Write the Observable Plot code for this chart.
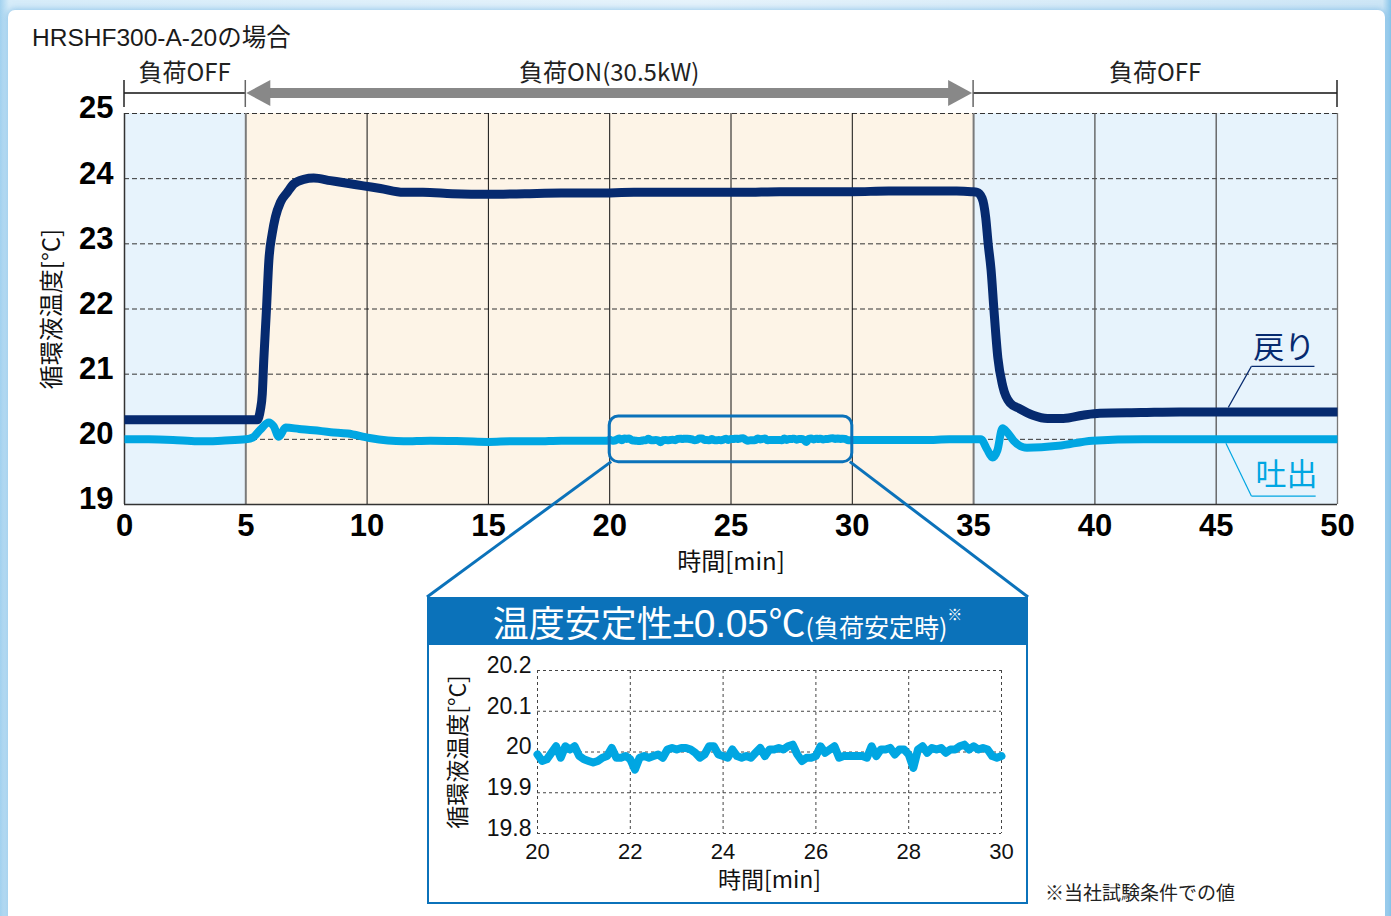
<!DOCTYPE html>
<html><head><meta charset="utf-8">
<script src="https://cdn.jsdelivr.net/npm/d3@7"></script>
<script src="https://cdn.jsdelivr.net/npm/@observablehq/plot@0.6"></script>
<style>
html,body{margin:0;padding:0;}
body{width:1391px;height:916px;overflow:hidden;position:relative;
  background:linear-gradient(90deg,#a3d2ef 0px,#d6ecf9 9px,#e6f3fb 50%,#cde6f6 99.4%,#86c4ea 100%);
  font-family:"Liberation Sans","Noto Sans CJK JP",sans-serif;}
#panel{position:absolute;left:8px;top:10px;width:1377px;height:940px;background:#fff;border-radius:7px;
  box-shadow:0 0 6px 1px rgba(90,165,220,0.55);}
#title{position:absolute;left:32px;top:23px;font-size:24.5px;color:#1a1a1a;white-space:nowrap;line-height:30px;}
#main{position:absolute;left:0;top:0;}
#insetbox{position:absolute;left:427px;top:597px;width:601px;height:307px;box-sizing:border-box;border:2px solid #0b72ba;background:#fff;}
#insethead{position:relative;height:46px;background:#0b72ba;color:#fff;white-space:nowrap;}
#insethead .inner{position:absolute;left:0;right:0;top:4px;text-align:center;line-height:1;}
#insethead .big{font-size:36px;font-family:"Noto Sans CJK JP",sans-serif;}
#insethead .num{font-size:39px;font-family:"Liberation Sans",sans-serif;letter-spacing:-0.3px;}
#insethead .deg{font-size:37px;font-family:"Noto Sans CJK JP",sans-serif;}
#insethead .mid{font-size:25px;font-family:"Noto Sans CJK JP",sans-serif;}
#insethead sup{font-size:15px;vertical-align:17px;font-family:"Noto Sans CJK JP",sans-serif;}
#insetplot{position:absolute;left:427px;top:645px;}
#note{position:absolute;left:1045px;top:881px;font-size:19px;color:#222;white-space:nowrap;line-height:26px;}
</style>
</head><body>
<div id="panel"></div>
<div id="main"></div>
<div id="title">HRSHF300-A-20の場合</div>
<div id="insetbox"><div id="insethead"><div class="inner"><span class="big">温度安定性</span><span class="num">±0.05</span><span class="deg">℃</span><span class="mid">(負荷安定時)</span><sup>※</sup></div></div></div>
<div id="insetplot"></div>
<div id="note">※当社試験条件での値</div>
<script>
// ---------- data ----------
const phaseLabels = ["負荷OFF", "負荷ON(30.5kW)", "負荷OFF"];
const phaseStart = [0, 5, 35];
const phaseEnd = [5, 35, 50];
const phaseState = ["off", "on", "off"];

const xTicks = [0, 5, 10, 15, 20, 25, 30, 35, 40, 45, 50];
const yTicks = [19, 20, 21, 22, 23, 24, 25];

// 戻り (return)
const returnTime = [0, 1, 2, 3, 4, 5, 5.3, 5.47, 5.6, 5.68, 5.74, 5.85, 5.95, 6.09, 6.22, 6.43, 6.71, 6.98, 7.39, 7.8, 8.49, 9.18, 9.85, 10.55, 11.5, 12.3, 13.5, 15, 16.5, 18, 19.5, 21, 22.5, 24, 25.5, 27, 28.5, 30, 31.5, 33, 34.3, 34.9, 35.15, 35.35, 35.5, 35.6, 35.72, 35.84, 36.0, 36.2, 36.5, 36.9, 37.45, 38.05, 38.7, 39.5, 40.2, 41.9, 43.5, 45, 46.5, 48, 50];
const returnTemp = [20.3, 20.3, 20.3, 20.3, 20.3, 20.3, 20.3, 20.3, 20.45, 20.7, 21.21, 21.98, 22.74, 23.16, 23.41, 23.64, 23.79, 23.92, 23.99, 24.01, 23.97, 23.93, 23.89, 23.85, 23.79, 23.79, 23.77, 23.76, 23.77, 23.78, 23.78, 23.79, 23.79, 23.79, 23.79, 23.80, 23.80, 23.80, 23.81, 23.81, 23.81, 23.80, 23.79, 23.7, 23.4, 23.0, 22.6, 21.98, 21.25, 20.82, 20.56, 20.47, 20.37, 20.32, 20.32, 20.37, 20.40, 20.41, 20.42, 20.42, 20.42, 20.42, 20.42];

// 吐出 (discharge), main chart portions outside the 20–30 window
const dischargeTimeA = [0, 1, 2, 3, 3.5, 4, 5, 5.3, 5.6, 5.95, 6.15, 6.36, 6.64, 7.2, 7.8, 8.5, 9.2, 10.1, 11.5, 12.6, 14, 15, 16, 17, 18, 19, 19.9];
const dischargeTempA = [20.0, 20.0, 19.99, 19.97, 19.97, 19.98, 20.0, 20.03, 20.15, 20.26, 20.2, 20.04, 20.18, 20.16, 20.14, 20.11, 20.09, 20.02, 19.97, 19.98, 19.97, 19.96, 19.97, 19.97, 19.98, 19.98, 19.98];
const dischargeTimeB = [30.5, 31, 32, 33, 34, 35, 35.3, 35.55, 35.78, 35.98, 36.19, 36.4, 36.65, 37.2, 38.5, 39.9, 42, 44, 46, 48, 50];
const dischargeTempB = [19.99, 19.99, 19.99, 19.99, 20.0, 20.0, 20.0, 19.85, 19.72, 19.83, 20.17, 20.1, 19.98, 19.87, 19.9, 19.98, 20.0, 20.0, 20.0, 20.0, 20.0];

// Inset: 吐出 20–30 min
const insetTime = [20.0, 20.1, 20.2, 20.3, 20.4, 20.5, 20.6, 20.7, 20.8, 20.9, 21.0, 21.1, 21.2, 21.3, 21.4, 21.5, 21.6, 21.7, 21.8, 21.9, 22.0, 22.1, 22.2, 22.3, 22.4, 22.5, 22.6, 22.7, 22.8, 22.9, 23.0, 23.1, 23.2, 23.3, 23.4, 23.5, 23.6, 23.7, 23.8, 23.9, 24.0, 24.1, 24.2, 24.3, 24.4, 24.5, 24.6, 24.7, 24.8, 24.9, 25.0, 25.1, 25.2, 25.3, 25.4, 25.5, 25.6, 25.7, 25.8, 25.9, 26.0, 26.1, 26.2, 26.3, 26.4, 26.5, 26.6, 26.7, 26.8, 26.9, 27.0, 27.1, 27.2, 27.3, 27.4, 27.5, 27.6, 27.7, 27.8, 27.9, 28.0, 28.1, 28.2, 28.3, 28.4, 28.5, 28.6, 28.7, 28.8, 28.9, 29.0, 29.1, 29.2, 29.3, 29.4, 29.5, 29.6, 29.7, 29.8, 29.9, 30.0];
const insetTemp = [19.994, 19.978, 19.982, 19.998, 20.014, 19.986, 20.014, 20.006, 20.014, 19.990, 19.982, 19.978, 19.974, 19.978, 19.986, 19.990, 20.010, 19.986, 19.986, 19.990, 19.982, 19.957, 19.986, 19.990, 19.986, 19.990, 19.994, 19.986, 20.006, 20.010, 20.006, 20.010, 20.010, 20.006, 19.998, 19.986, 19.994, 20.014, 20.014, 19.994, 19.990, 19.986, 20.006, 19.990, 19.986, 19.990, 19.986, 19.998, 20.010, 19.990, 20.006, 20.006, 20.010, 20.006, 20.014, 20.018, 19.994, 19.978, 19.986, 19.986, 19.990, 20.014, 19.998, 20.006, 20.014, 19.986, 19.990, 19.990, 19.990, 19.990, 19.990, 19.986, 20.014, 19.990, 20.006, 20.006, 20.010, 19.994, 20.006, 20.006, 19.994, 19.961, 20.006, 20.014, 19.998, 20.010, 20.006, 20.010, 19.998, 20.006, 20.006, 20.014, 20.018, 20.006, 20.014, 20.006, 20.010, 20.006, 19.990, 19.986, 19.990];
const insetXTicks = [20, 22, 24, 26, 28, 30];
const insetYTicks = [19.8, 19.9, 20, 20.1, 20.2];

const seriesNames = ["戻り", "吐出"];

// ---------- build rows ----------
const FONT = '"Liberation Sans","Noto Sans CJK JP",sans-serif';
const JFONT = '"Noto Sans CJK JP","Liberation Sans",sans-serif';
const DARK = "#062a6f", LIGHT = "#00a6e2", FRAMEBLUE = "#0b72ba";
const phases = phaseLabels.map((label, i) => ({label, start: phaseStart[i], end: phaseEnd[i], state: phaseState[i]}));
const returnRows = returnTime.map((t, i) => ({t, v: returnTemp[i]}));
const insetRows = insetTime.map((t, i) => ({t, v: insetTemp[i]}));
const dischargeRows = [
  ...dischargeTimeA.map((t, i) => ({t, v: dischargeTempA[i]})),
  ...insetRows,
  ...dischargeTimeB.map((t, i) => ({t, v: dischargeTempB[i]}))
];
const zoomStart = insetXTicks[0], zoomEnd = insetXTicks[insetXTicks.length - 1];
const fmt = d => String(d);

// ---------- main chart ----------
const chart = Plot.plot({
  width: 1391, height: 916,
  marginLeft: 124, marginRight: 54, marginTop: 113, marginBottom: 412,
  style: {background: "transparent", overflow: "visible", fontFamily: FONT, color: "#000"},
  x: {domain: [0, 50]},
  y: {domain: [19, 25]},
  marks: [
    Plot.rect(phases, {filter: d => d.state === "on", x1: "start", x2: "end", fill: "#fdf4e7"}),
    Plot.rect(phases, {filter: d => d.state === "off", x1: "start", x2: "end", fill: "#e7f3fc"}),
    Plot.ruleY(yTicks.slice(1), {stroke: "#333", strokeWidth: 1, strokeDasharray: "5,3"}),
    Plot.ruleX([10, 15, 20, 25, 30], {stroke: "#111", strokeWidth: 1}),
    Plot.ruleX([40, 45], {stroke: "#555", strokeWidth: 1.3}),
    Plot.ruleX([5, 35], {stroke: "#7a7a7a", strokeWidth: 2}),
    Plot.ruleX([50], {stroke: "#777", strokeWidth: 1.3}),
    Plot.ruleX([0], {stroke: "#333", strokeWidth: 1.5}),
    Plot.ruleY([19], {stroke: "#333", strokeWidth: 1.5}),
    Plot.line(returnRows, {x: "t", y: "v", stroke: DARK, strokeWidth: 9, curve: "monotone-x", strokeLinejoin: "round", strokeLinecap: "butt"}),
    Plot.line(dischargeRows, {x: "t", y: "v", stroke: LIGHT, strokeWidth: 8, curve: "monotone-x", strokeLinejoin: "round", strokeLinecap: "butt"}),
    // zoom window
    Plot.rect([{a: zoomStart, b: zoomEnd}], {x1: "a", x2: "b", y1: 19.65, y2: 20.35, fill: "none", stroke: FRAMEBLUE, strokeWidth: 3, rx: 9}),
    // series labels with leaders
    Plot.link([seriesNames[0]], {x1: 45.5, y1: 20.49, x2: 46.45, y2: 21.12, stroke: DARK, strokeWidth: 1.2}),
    Plot.link([seriesNames[0]], {x1: 46.45, y1: 21.12, x2: 49.05, y2: 21.12, stroke: DARK, strokeWidth: 1.2}),
    Plot.text([seriesNames[0]], {text: d => d, x: 47.8, y: 21.4, fill: DARK, fontSize: 31, fontFamily: JFONT}),
    Plot.link([seriesNames[1]], {x1: 45.4, y1: 19.94, x2: 46.45, y2: 19.13, stroke: LIGHT, strokeWidth: 1.2}),
    Plot.link([seriesNames[1]], {x1: 46.45, y1: 19.13, x2: 49.1, y2: 19.13, stroke: LIGHT, strokeWidth: 1.2}),
    Plot.text([seriesNames[1]], {text: d => d, x: 47.9, y: 19.45, fill: LIGHT, fontSize: 31, fontFamily: JFONT}),
    // axes
    Plot.axisX({ticks: xTicks, tickFormat: fmt, tickSize: 0, tickPadding: 9, fontSize: 31, fontWeight: "bold", label: null}),
    Plot.axisY({ticks: yTicks, tickFormat: fmt, tickSize: 0, tickPadding: 11, fontSize: 31, fontWeight: "bold", label: null, dy: -5}),
    Plot.text(["時間[min]"], {text: d => d, frameAnchor: "bottom", lineAnchor: "middle", dy: 58, fontSize: 24, fontFamily: JFONT, fill: "#111"}),
    Plot.text(["循環液温度[°C]"], {text: d => d, frameAnchor: "left", textAnchor: "middle", lineAnchor: "middle", dx: -72, rotate: -90, fontSize: 24, fontFamily: JFONT, fill: "#111"})
  ]
});
document.getElementById("main").appendChild(chart);

// top phase annotations & connectors drawn with the chart's own scales
const sx = chart.scale("x").apply, sy = chart.scale("y").apply;
const svg = d3.select(chart);
const g = svg.append("g");
const yb = 93;
phases.forEach(p => {
  if (p.state === "off") {
    g.append("line").attr("x1", sx(p.start)).attr("x2", sx(p.end)).attr("y1", yb).attr("y2", yb).attr("stroke", "#111").attr("stroke-width", 1.6);
  } else {
    const a = sx(p.start), b = sx(p.end);
    g.append("line").attr("x1", a + 20).attr("x2", b - 20).attr("y1", yb).attr("y2", yb).attr("stroke", "#888").attr("stroke-width", 10);
    g.append("polygon").attr("points", `${a+1},${yb} ${a+25},${yb-13} ${a+25},${yb+13}`).attr("fill", "#888");
    g.append("polygon").attr("points", `${b-1},${yb} ${b-25},${yb-13} ${b-25},${yb+13}`).attr("fill", "#888");
  }
  g.append("text").attr("x", sx((p.start + p.end) / 2)).attr("y", 72).attr("dy", "0.36em")
    .attr("text-anchor", "middle").attr("font-size", 24).attr("font-family", JFONT).attr("fill", "#222").text(p.label);
});
[0, 5, 35, 50].forEach(t => {
  g.append("line").attr("x1", sx(t)).attr("x2", sx(t)).attr("y1", yb - 13).attr("y2", yb + 14)
    .attr("stroke", (t === 5 || t === 35) ? "#666" : "#222").attr("stroke-width", 1.5);
});
const box = {left: 427, top: 597, right: 1028};
g.append("line").attr("x1", sx(zoomStart) + 2).attr("y1", sy(19.65)).attr("x2", box.left).attr("y2", box.top)
  .attr("stroke", FRAMEBLUE).attr("stroke-width", 3);
g.append("line").attr("x1", sx(zoomEnd) - 2).attr("y1", sy(19.65)).attr("x2", box.right).attr("y2", box.top)
  .attr("stroke", FRAMEBLUE).attr("stroke-width", 3);

// ---------- inset chart ----------
const inset = Plot.plot({
  width: 601, height: 258,
  marginLeft: 110, marginRight: 27, marginTop: 25, marginBottom: 70,
  style: {background: "transparent", overflow: "visible", fontFamily: FONT, color: "#111"},
  x: {domain: [zoomStart, zoomEnd]},
  y: {domain: [insetYTicks[0], insetYTicks[insetYTicks.length - 1]]},
  marks: [
    Plot.ruleY(insetYTicks, {stroke: "#444", strokeWidth: 1, strokeDasharray: "3,3"}),
    Plot.ruleX(insetXTicks, {stroke: "#444", strokeWidth: 1, strokeDasharray: "3,3"}),
    Plot.line(insetRows, {x: "t", y: "v", stroke: LIGHT, strokeWidth: 8, curve: "linear", strokeLinejoin: "round"}),
    Plot.axisX({ticks: insetXTicks, tickFormat: fmt, tickSize: 0, tickPadding: 10, fontSize: 22, label: null}),
    Plot.axisY({ticks: insetYTicks, tickFormat: fmt, tickSize: 0, tickPadding: 6, fontSize: 23, label: null, dy: -5}),
    Plot.text(["時間[min]"], {text: d => d, frameAnchor: "bottom", lineAnchor: "middle", dy: 47, fontSize: 23, fontFamily: JFONT}),
    Plot.text(["循環液温度[°C]"], {text: d => d, frameAnchor: "left", textAnchor: "middle", lineAnchor: "middle", dx: -79, rotate: -90, fontSize: 23, fontFamily: JFONT})
  ]
});
document.getElementById("insetplot").appendChild(inset);
</script>
</body></html>
